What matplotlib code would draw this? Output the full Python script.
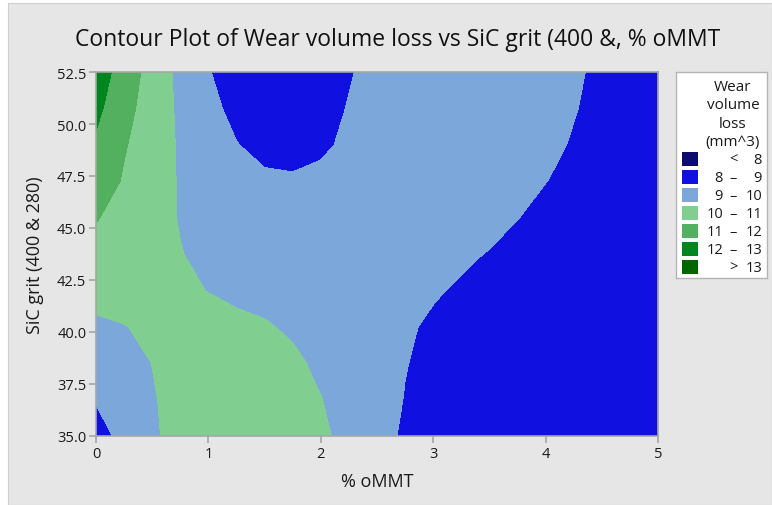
import numpy as np
import matplotlib
matplotlib.use("Agg")
import matplotlib.pyplot as plt
from matplotlib.patches import Rectangle

# ─────────────────────────────────────────────────────────────────────────────
# Data
# ─────────────────────────────────────────────────────────────────────────────

mmt = [0, 0.25, 0.5, 0.75, 1, 1.25, 1.5, 1.75, 2, 2.25, 2.5, 2.75, 3, 3.5, 4, 4.5, 5]
grit = [35, 36.75, 38.5, 40.25, 42, 43.75, 45.5, 47.25, 49, 50.75, 52.5]

# wear volume loss [mm^3], one row per grit value (bottom -> top)
wear = [
    [8.60, 9.30, 9.85, 10.35, 10.50, 10.55, 10.50, 10.35, 10.12, 9.80, 9.35, 8.86, 8.65, 8.38, 8.20, 8.08, 8.03],
    [9.06, 9.45, 9.93, 10.30, 10.45, 10.45, 10.40, 10.25, 10.02, 9.70, 9.35, 8.97, 8.70, 8.40, 8.20, 8.08, 8.03],
    [9.50, 9.65, 10.01, 10.30, 10.40, 10.40, 10.35, 10.14, 9.85, 9.60, 9.35, 9.03, 8.80, 8.45, 8.25, 8.10, 8.03],
    [9.69, 9.96, 10.22, 10.35, 10.30, 10.16, 10.07, 9.89, 9.60, 9.45, 9.30, 9.13, 8.85, 8.45, 8.25, 8.10, 8.03],
    [10.60, 10.50, 10.35, 10.15, 9.98, 9.85, 9.75, 9.70, 9.68, 9.60, 9.45, 9.25, 9.10, 8.65, 8.35, 8.15, 8.05],
    [10.75, 10.60, 10.35, 10.03, 9.80, 9.70, 9.62, 9.58, 9.60, 9.63, 9.62, 9.55, 9.40, 8.95, 8.45, 8.20, 8.05],
    [11.05, 10.69, 10.32, 9.95, 9.75, 9.60, 9.50, 9.45, 9.50, 9.60, 9.70, 9.75, 9.72, 9.35, 8.70, 8.35, 8.10],
    [11.60, 10.90, 10.40, 9.93, 9.65, 9.40, 9.15, 9.12, 9.25, 9.45, 9.65, 9.80, 9.85, 9.70, 9.02, 8.50, 8.15],
    [11.85, 11.08, 10.46, 9.90, 9.47, 9.03, 8.75, 8.65, 8.82, 9.20, 9.55, 9.72, 9.80, 9.75, 9.24, 8.60, 8.20],
    [12.23, 11.33, 10.53, 9.84, 9.25, 8.75, 8.55, 8.50, 8.65, 9.05, 9.40, 9.60, 9.70, 9.65, 9.35, 8.75, 8.30],
    [12.50, 11.59, 10.60, 9.75, 9.04, 8.65, 8.45, 8.42, 8.55, 8.93, 9.30, 9.50, 9.60, 9.55, 9.36, 8.85, 8.30],
]

levels = [0, 8, 9, 10, 11, 12, 13, 100]
band_colors = ["#0c0c6e", "#1010e0", "#7ba7da", "#80cf90", "#52b05e", "#00861f", "#006400"]
leg_lo  = ["", "8", "9", "10", "11", "12", ""]
leg_mid = ["<", "–", "–", "–", "–", "–", ">"]
leg_hi  = ["8", "9", "10", "11", "12", "13", "13"]

xticks = [0, 1, 2, 3, 4, 5]
yticks = [35.0, 37.5, 40.0, 42.5, 45.0, 47.5, 50.0, 52.5]

FONT = "Open Sans"
BG = "#e6e6e6"
EDGE = "#a6a6a6"
INK = "#1a1a1a"

# ─────────────────────────────────────────────────────────────────────────────
# Figure
# ─────────────────────────────────────────────────────────────────────────────

W, H = 772, 506
fig = plt.figure(figsize=(W / 100, H / 100), dpi=100, facecolor="white")
fig.add_artist(Rectangle((8 / W, 0), 1 - 8 / W, 1 - 4 / H, transform=fig.transFigure,
                         facecolor=BG, edgecolor="#d0d0d0", lw=0.8, zorder=-10))

ax = fig.add_axes([96 / W, 1 - 437 / H, (658 - 96) / W, (437 - 73) / H])
ax.contourf(mmt, grit, np.array(wear), levels=levels, colors=band_colors)
ax.set_xlim(0, 5)
ax.set_ylim(35, 52.5)
ax.set_xticks(xticks)
ax.set_yticks(yticks)
ax.set_yticklabels([f"{v:.1f}" for v in yticks])
for sp in ax.spines.values():
    sp.set_color(EDGE)
    sp.set_linewidth(1.2)
ax.tick_params(colors=EDGE, labelcolor=INK, length=5, width=1.2,
               labelsize=10.5, pad=2)
for lab in ax.get_xticklabels() + ax.get_yticklabels():
    lab.set_family(FONT)

ax.set_xlabel("% oMMT", family=FONT, fontsize=13, color=INK, labelpad=8)
ax.set_ylabel("SiC grit (400 & 280)", family=FONT, fontsize=13, color=INK, labelpad=9)

fig.text(398 / W, 1 - 40 / H, "Contour Plot of Wear volume loss vs SiC grit (400 &, % oMMT",
         family=FONT, fontsize=16.5, ha="center", va="center", color="#111111")

# ─────────────────────────────────────────────────────────────────────────────
# Legend (drawn by hand to mimic Minitab's boxed key)
# ─────────────────────────────────────────────────────────────────────────────

lx0, ly0, lw, lh = 676, 73, 91, 206
lax = fig.add_axes([lx0 / W, 1 - (ly0 + lh) / H, lw / W, lh / H])
lax.set_xlim(0, lw)
lax.set_ylim(lh, 0)
lax.set_facecolor("white")
for sp in lax.spines.values():
    sp.set_color("#b4b4b4")
    sp.set_linewidth(1.0)
lax.set_xticks([])
lax.set_yticks([])

for i, line in enumerate(["Wear", "volume", "loss", "(mm^3)"]):
    lax.text(57, 14 + i * 18.5, line, family=FONT, fontsize=11,
             ha="center", va="center", color=INK)

for i, c in enumerate(band_colors):
    yc = 87 + i * 18
    lax.add_patch(Rectangle((6, yc - 7), 16, 14, facecolor=c, edgecolor="none"))
    lax.text(47, yc, leg_lo[i], family=FONT, fontsize=10.5, ha="right", va="center", color=INK)
    lax.text(57, yc, leg_mid[i], family=FONT, fontsize=10.5, ha="center", va="center", color=INK)
    lax.text(86, yc, leg_hi[i], family=FONT, fontsize=10.5, ha="right", va="center", color=INK)

fig.savefig("out.png", dpi=100, facecolor=fig.get_facecolor())
